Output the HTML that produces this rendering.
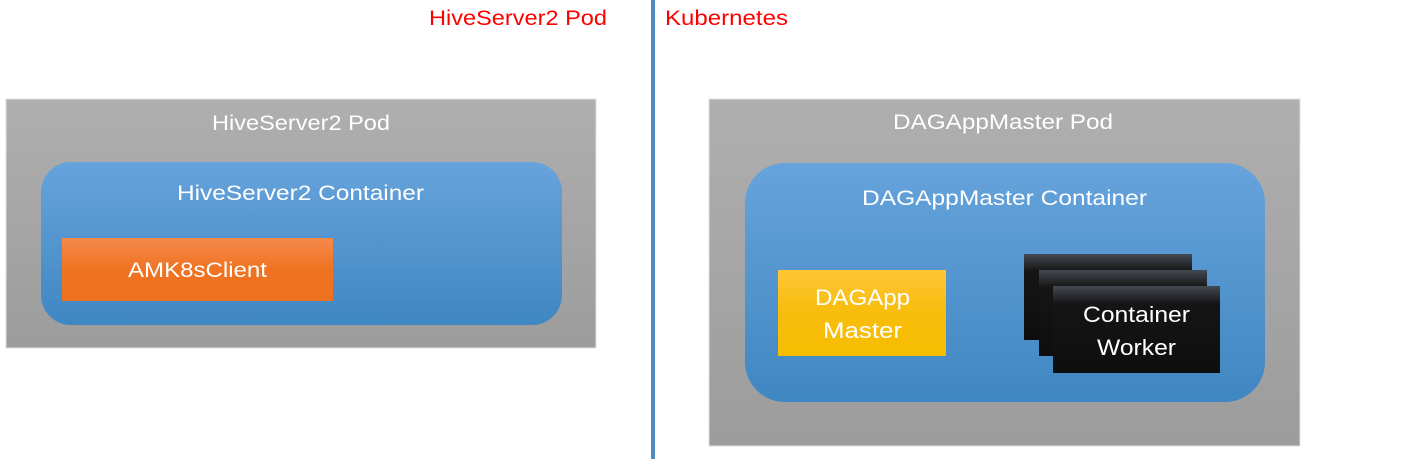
<!DOCTYPE html>
<html><head><style>body{margin:0;background:#fff}svg{display:block}</style></head>
<body>
<svg width="1411" height="459" xmlns="http://www.w3.org/2000/svg" font-family="Liberation Sans, sans-serif">
<defs>
<linearGradient id="blue" x1="0" y1="0" x2="0" y2="1"><stop offset="0" stop-color="#67a3dc"/><stop offset="1" stop-color="#3f87c2"/></linearGradient>
<linearGradient id="gray" x1="0" y1="0" x2="0" y2="1"><stop offset="0" stop-color="#afafaf"/><stop offset="1" stop-color="#9c9c9c"/></linearGradient>
<linearGradient id="orange" x1="0" y1="0" x2="0" y2="1"><stop offset="0" stop-color="#f4894b"/><stop offset="0.5" stop-color="#f07322"/><stop offset="1" stop-color="#ee711f"/></linearGradient>
<linearGradient id="yellow" x1="0" y1="0" x2="0" y2="1"><stop offset="0" stop-color="#fec536"/><stop offset="0.5" stop-color="#f8bd0c"/><stop offset="1" stop-color="#f6bd00"/></linearGradient>
<linearGradient id="black" x1="0" y1="0" x2="0" y2="1"><stop offset="0" stop-color="#444a52"/><stop offset="0.2" stop-color="#151515"/><stop offset="1" stop-color="#0e0e0e"/></linearGradient>
</defs>
<text x="429" y="25" font-size="21" fill="#ff0000" textLength="178" lengthAdjust="spacingAndGlyphs">HiveServer2 Pod</text>
<text x="665" y="25" font-size="21" fill="#ff0000" textLength="123" lengthAdjust="spacingAndGlyphs">Kubernetes</text>
<rect x="651" y="0" width="4" height="459" fill="#4f8bc0"/>

<rect x="6" y="99" width="590" height="249" fill="url(#gray)" stroke="#e0e0e0" stroke-width="1"/>
<text x="212" y="130" font-size="21" fill="#fff" textLength="178" lengthAdjust="spacingAndGlyphs">HiveServer2 Pod</text>
<rect x="41" y="162" width="521" height="163" rx="30" fill="url(#blue)"/>
<text x="177" y="200" font-size="21" fill="#fff" textLength="247" lengthAdjust="spacingAndGlyphs">HiveServer2 Container</text>
<rect x="62" y="238" width="271" height="63" fill="url(#orange)"/>
<text x="128" y="277" font-size="21" fill="#fff" textLength="139" lengthAdjust="spacingAndGlyphs">AMK8sClient</text>

<rect x="709" y="99" width="591" height="347" fill="url(#gray)" stroke="#e0e0e0" stroke-width="1"/>
<text x="893" y="129" font-size="21" fill="#fff" textLength="220" lengthAdjust="spacingAndGlyphs">DAGAppMaster Pod</text>
<rect x="745" y="163" width="520" height="239" rx="40" fill="url(#blue)"/>
<text x="862" y="205" font-size="21" fill="#fff" textLength="285" lengthAdjust="spacingAndGlyphs">DAGAppMaster Container</text>
<rect x="778" y="270" width="168" height="86" fill="url(#yellow)"/>
<text x="815" y="305" font-size="22" fill="#fff" textLength="95" lengthAdjust="spacingAndGlyphs">DAGApp</text>
<text x="823" y="338" font-size="22" fill="#fff" textLength="79" lengthAdjust="spacingAndGlyphs">Master</text>
<rect x="1024" y="254" width="168" height="86" fill="url(#black)"/>
<rect x="1039" y="270" width="168" height="86" fill="url(#black)"/>
<rect x="1053" y="286" width="167" height="87" fill="url(#black)"/>
<text x="1083" y="322" font-size="22" fill="#fff" textLength="107" lengthAdjust="spacingAndGlyphs">Container</text>
<text x="1097" y="355" font-size="22" fill="#fff" textLength="79" lengthAdjust="spacingAndGlyphs">Worker</text>
</svg>
</body></html>
